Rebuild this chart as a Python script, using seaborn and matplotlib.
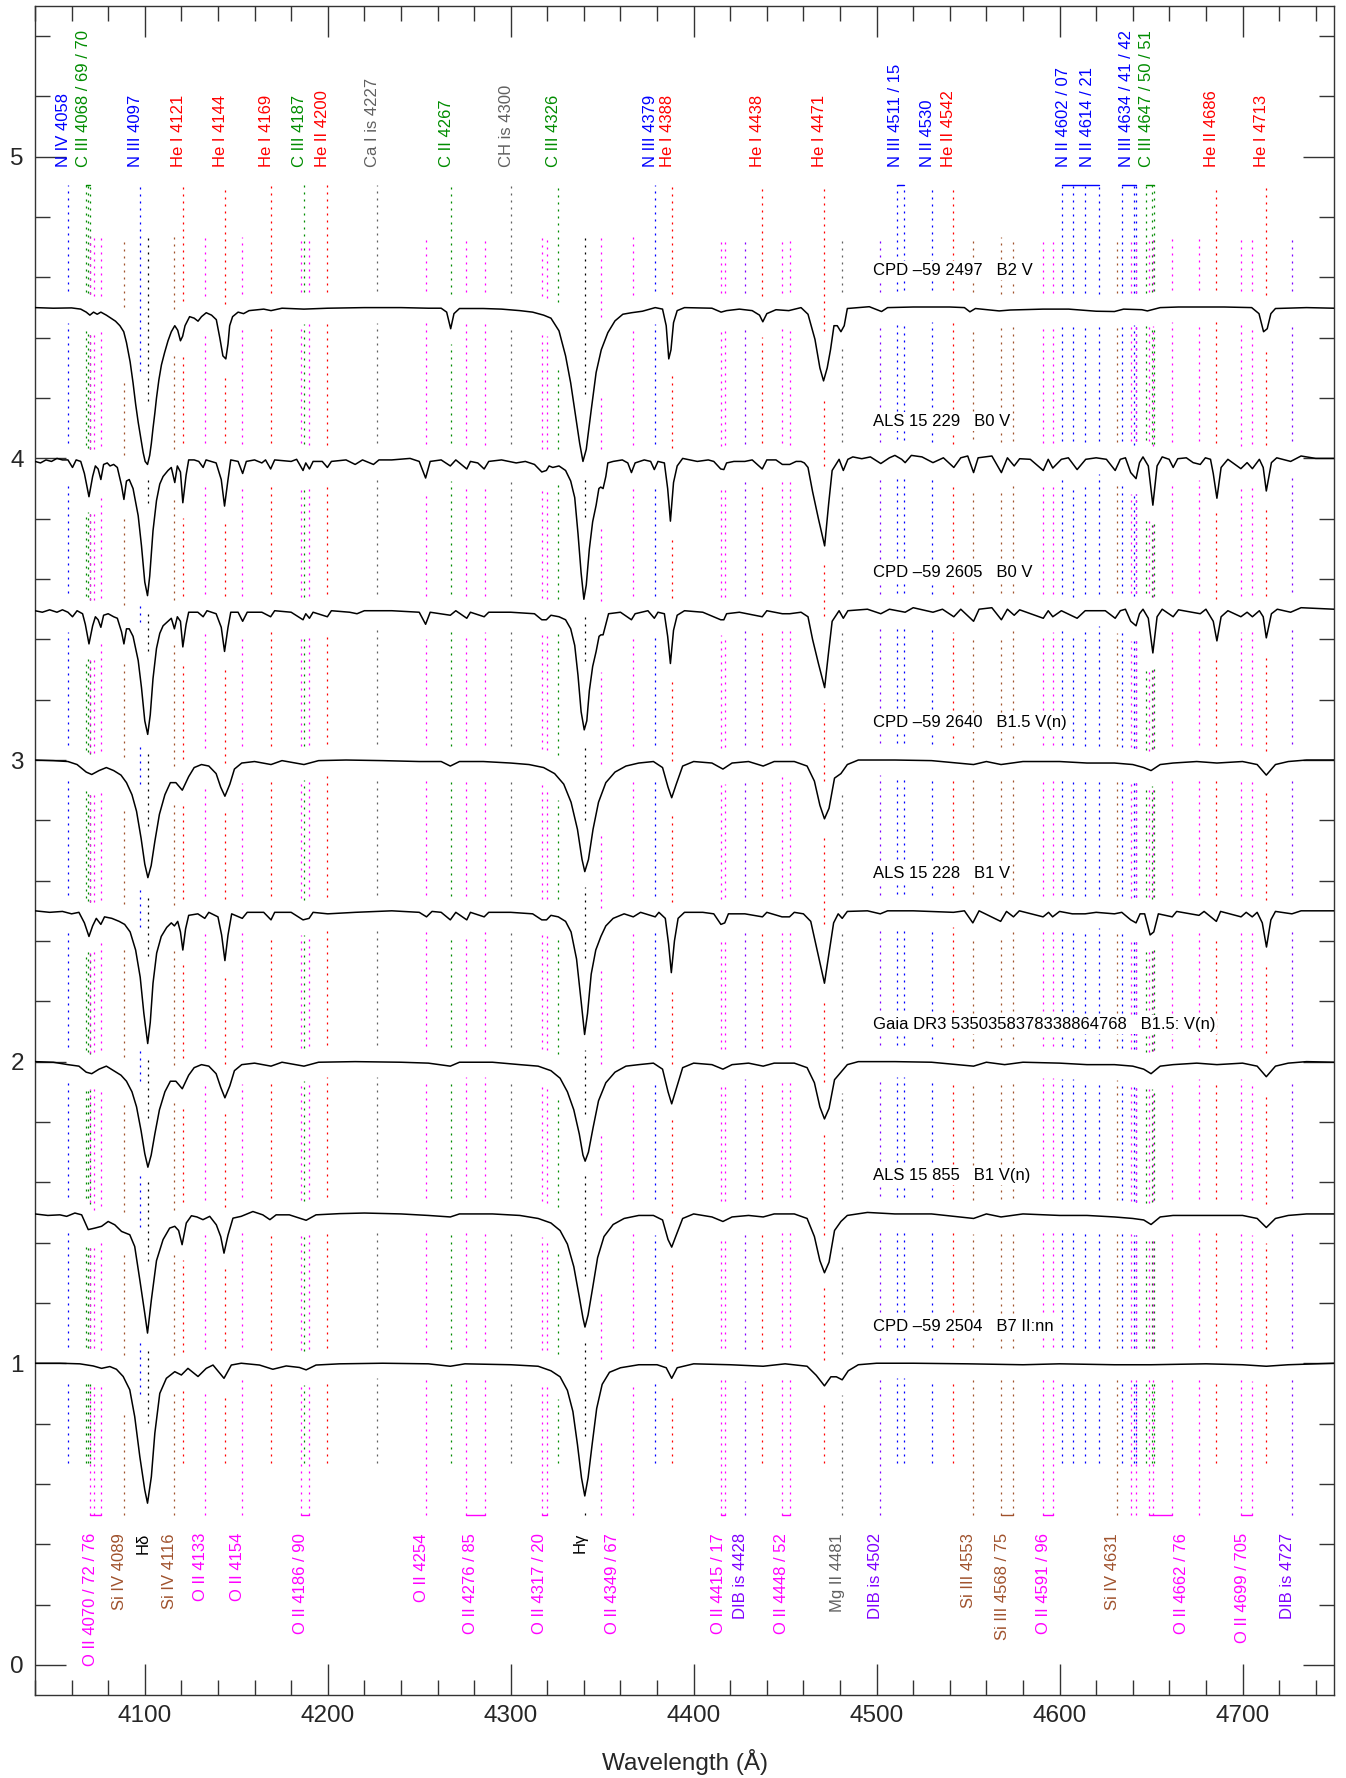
import numpy as np
import pandas as pd
import matplotlib
matplotlib.use('Agg')
import matplotlib.pyplot as plt
import seaborn as sns
from matplotlib.ticker import MultipleLocator

sns.set_theme(style='ticks')
plt.rcParams['font.family'] = ['Liberation Sans', 'DejaVu Sans']

# ---------------- data ----------------
star_names = ["CPD \u201359 2497   B2 V", "ALS 15 229   B0 V", "CPD \u201359 2605   B0 V",
              "CPD \u201359 2640   B1.5 V(n)", "ALS 15 228   B1 V",
              "Gaia DR3 5350358378338864768   B1.5: V(n)", "ALS 15 855   B1 V(n)",
              "CPD \u201359 2504   B7 II:nn"]
offsets = [4.5, 4.0, 3.5, 3.0, 2.5, 2.0, 1.5, 1.0]

# normalized spectra (wavelength [A], flux)
spec_1 = [(4040, 1.000), (4050, 0.998), (4060, 0.999), (4065, 0.995), (4068, 0.985), (4070, 0.975),
          (4072, 0.985), (4074, 0.978), (4076, 0.985), (4079, 0.975), (4081, 0.967), (4084, 0.955),
          (4086.4, 0.94), (4088.5, 0.92), (4090, 0.884), (4092, 0.82), (4093.6, 0.75), (4095, 0.68),
          (4096.4, 0.62), (4098, 0.56), (4099.1, 0.52), (4100.2, 0.49), (4101.5, 0.48), (4102.7, 0.51),
          (4103.6, 0.55), (4104.5, 0.60), (4105.5, 0.65), (4106.4, 0.70), (4107.7, 0.76), (4109.1, 0.81),
          (4110.8, 0.85), (4112.7, 0.89), (4114.5, 0.92), (4116.4, 0.94), (4118, 0.925), (4119.5, 0.89),
          (4120.7, 0.905), (4122, 0.94), (4124.5, 0.97), (4127, 0.965), (4129.1, 0.955), (4131, 0.97),
          (4133.6, 0.983), (4136.5, 0.975), (4139.1, 0.96), (4141, 0.90), (4142.7, 0.84), (4144.3, 0.83),
          (4145.5, 0.88), (4146.4, 0.94), (4148, 0.97), (4151, 0.985), (4154, 0.98), (4157, 0.99),
          (4165, 0.995), (4169, 0.99), (4175, 0.998), (4187, 0.995), (4200, 0.998), (4220, 1.0),
          (4240, 1.0), (4255, 0.998), (4262, 0.998), (4265, 0.985), (4267.2, 0.93), (4269, 0.98),
          (4272, 0.997), (4285, 0.997), (4295, 0.995), (4305, 0.99), (4312, 0.985), (4318, 0.975),
          (4322, 0.965), (4326.4, 0.923), (4330, 0.84), (4332.8, 0.75), (4335.5, 0.64), (4337.7, 0.55),
          (4339.5, 0.49), (4341.3, 0.53), (4344, 0.66), (4346.7, 0.785), (4349.5, 0.86), (4353.1, 0.917),
          (4357, 0.956), (4361.3, 0.978), (4366, 0.983), (4372, 0.988), (4379, 1.0), (4383, 0.995),
          (4385, 0.94), (4386.4, 0.83), (4387.6, 0.86), (4389, 0.95), (4391, 0.99), (4395, 1.0),
          (4410, 0.998), (4415, 0.985), (4418, 0.99), (4425, 0.995), (4432, 0.99), (4436, 0.975),
          (4437.8, 0.953), (4440, 0.98), (4445, 0.993), (4452, 0.99), (4458.7, 1.0), (4462.5, 0.978),
          (4466.3, 0.895), (4469, 0.80), (4471, 0.757), (4473, 0.80), (4474.8, 0.86), (4476.7, 0.94),
          (4478.5, 0.94), (4480.5, 0.92), (4482.3, 0.94), (4484, 0.997), (4496, 1.003), (4502.7, 0.987),
          (4506, 1.0), (4520, 1.002), (4540, 1.002), (4548, 1.0), (4551, 0.986), (4554, 0.997),
          (4567, 0.989), (4573, 0.992), (4591, 0.995), (4605, 0.995), (4620, 0.988), (4630, 0.987),
          (4635, 0.995), (4645, 0.993), (4648, 0.989), (4655, 1.0), (4665, 1.002), (4690, 1.002),
          (4705, 1.0), (4709, 0.98), (4711.5, 0.92), (4713.5, 0.93), (4715.5, 0.98), (4718, 0.997),
          (4735, 1.0), (4750, 0.998)]

spec_2 = [(4040, 0.99), (4043, 0.985), (4046, 0.995), (4049, 0.99), (4052, 1.0), (4055, 0.995),
          (4058, 0.995), (4060.5, 0.97), (4062.5, 0.995), (4065, 0.99), (4067, 0.95), (4069.5, 0.873),
          (4071.5, 0.94), (4073, 0.975), (4074.5, 0.965), (4076, 0.93), (4077.5, 0.98), (4079.5, 0.985),
          (4081, 0.975), (4083, 0.98), (4085, 0.97), (4087.3, 0.91), (4088.6, 0.864), (4090, 0.925),
          (4091.5, 0.93), (4093.6, 0.90), (4096.4, 0.81), (4098.2, 0.71), (4100, 0.59), (4101.5, 0.545),
          (4102.7, 0.61), (4104.5, 0.76), (4106.4, 0.86), (4108.2, 0.915), (4110, 0.94), (4112.7, 0.96),
          (4114.5, 0.97), (4116.4, 0.92), (4117.8, 0.975), (4119.5, 0.955), (4120.8, 0.853),
          (4122.6, 0.945), (4124, 0.995), (4127, 0.995), (4129.5, 0.99), (4131.9, 0.97), (4133.5, 0.995),
          (4139, 0.985), (4141.8, 0.93), (4143.6, 0.842), (4145.5, 0.93), (4147, 0.995), (4151, 0.99),
          (4153.5, 0.95), (4155.5, 0.99), (4160, 0.995), (4164, 0.985), (4166, 0.995), (4168.8, 0.965),
          (4171, 0.995), (4180, 0.99), (4183, 0.997), (4186.5, 0.96), (4188, 0.985), (4190, 0.965),
          (4192, 0.99), (4197, 0.99), (4199.8, 0.97), (4202, 0.99), (4210, 0.995), (4215, 0.98),
          (4219, 0.995), (4225, 0.98), (4228, 0.995), (4235, 0.995), (4245, 1.0), (4250, 0.99),
          (4253.5, 0.935), (4256, 0.99), (4262, 0.995), (4267, 0.975), (4270, 0.995), (4276, 0.965),
          (4278, 0.99), (4282, 0.985), (4285.5, 0.965), (4288, 0.99), (4295, 0.995), (4303, 0.985),
          (4308, 0.99), (4313, 0.98), (4317, 0.955), (4319.5, 0.96), (4321, 0.975), (4323, 0.97),
          (4326.4, 0.975), (4330, 0.96), (4332.8, 0.925), (4335, 0.87), (4336.8, 0.75), (4338.5, 0.62),
          (4340, 0.533), (4341.3, 0.58), (4343, 0.70), (4344.8, 0.79), (4346.7, 0.845), (4348.2, 0.90),
          (4349.2, 0.905), (4350.5, 0.90), (4352, 0.94), (4353.1, 0.985), (4356, 0.99), (4361, 0.995),
          (4364, 0.985), (4366, 0.953), (4368, 0.985), (4373, 0.995), (4376.5, 0.99), (4378.5, 0.963),
          (4380.5, 0.99), (4384, 0.985), (4385.8, 0.90), (4387.3, 0.792), (4389, 0.92), (4391, 0.975),
          (4394, 1.0), (4398, 0.995), (4402, 0.99), (4408, 0.995), (4411, 0.99), (4414.8, 0.965),
          (4416.5, 0.963), (4418, 0.985), (4422, 0.99), (4428, 0.99), (4432, 0.995), (4437.5, 0.965),
          (4440, 0.995), (4445, 0.995), (4448.5, 0.98), (4452.5, 0.98), (4456, 0.99), (4458.7, 0.99),
          (4460.5, 0.985), (4462.5, 0.97), (4465, 0.89), (4468.2, 0.80), (4471.6, 0.71), (4473.8, 0.85),
          (4475.7, 0.96), (4479.5, 0.997), (4481.8, 0.96), (4484.3, 0.997), (4487, 1.005),
          (4491.9, 0.999), (4496.6, 1.005), (4502.3, 0.983), (4507, 1.002), (4510, 1.01),
          (4513.7, 0.997), (4515.6, 0.986), (4519, 1.01), (4524.8, 1.005), (4530.8, 0.986),
          (4536.5, 1.002), (4542.2, 0.97), (4546, 1.002), (4549.8, 1.008), (4553, 0.953),
          (4555.5, 1.002), (4563, 1.008), (4568.2, 0.953), (4571.5, 1.002), (4575.2, 0.975),
          (4578.2, 0.999), (4584, 0.997), (4591.1, 0.96), (4593.8, 0.997), (4596.3, 0.968), (4601, 0.997),
          (4604.8, 1.002), (4609.6, 0.963), (4614.3, 0.997), (4620, 1.002), (4625.6, 0.997),
          (4630.4, 0.96), (4633.2, 0.997), (4636, 1.002), (4638.9, 0.953), (4641.8, 0.933),
          (4643.7, 0.986), (4645.6, 1.005), (4648.5, 0.975), (4651, 0.845), (4653.3, 0.975),
          (4656.1, 1.005), (4659.9, 0.997), (4662.1, 0.97), (4664.6, 0.999), (4669.3, 1.002),
          (4673, 0.986), (4676.9, 0.98), (4679.7, 1.002), (4682.5, 0.997), (4684, 0.95), (4686, 0.868),
          (4688.3, 0.97), (4692, 0.997), (4699.1, 0.966), (4702.5, 0.986), (4705.4, 0.966),
          (4709.2, 0.997), (4711.3, 0.97), (4713, 0.892), (4715.8, 0.986), (4718.7, 1.002),
          (4726.3, 0.99), (4732, 1.008), (4740, 1.0), (4750, 1.0)]

spec_3 = [(4040, 0.995), (4044, 0.99), (4048, 0.998), (4052, 0.99), (4055, 0.998), (4058, 0.99),
          (4060.5, 0.975), (4063, 0.995), (4066, 0.985), (4067.5, 0.95), (4069.5, 0.885), (4071.5, 0.945),
          (4073, 0.975), (4074.5, 0.965), (4076, 0.94), (4077.5, 0.98), (4080, 0.985), (4083, 0.975),
          (4085, 0.97), (4087.3, 0.925), (4088.6, 0.885), (4090, 0.935), (4091.5, 0.935), (4093.6, 0.91),
          (4096.4, 0.83), (4098.2, 0.74), (4100, 0.63), (4101.6, 0.585), (4103, 0.65), (4104.5, 0.77),
          (4106.4, 0.87), (4108.2, 0.92), (4110, 0.945), (4112.7, 0.96), (4114.5, 0.97), (4116.2, 0.935),
          (4117.8, 0.975), (4119.5, 0.96), (4120.8, 0.875), (4122.6, 0.95), (4124, 0.99), (4129, 0.99),
          (4131.9, 0.975), (4134, 0.995), (4139, 0.985), (4141.8, 0.94), (4143.6, 0.86), (4145.5, 0.94),
          (4147, 0.99), (4151, 0.99), (4153.5, 0.96), (4156, 0.99), (4164, 0.99), (4168.8, 0.975),
          (4171, 0.995), (4180, 0.99), (4186.5, 0.965), (4188, 0.985), (4190, 0.97), (4192, 0.99),
          (4199.8, 0.975), (4202, 0.995), (4212, 0.99), (4216, 0.985), (4220, 0.995), (4235, 0.995),
          (4250, 0.99), (4253.5, 0.95), (4256, 0.99), (4267, 0.98), (4270, 0.995), (4276, 0.97),
          (4278, 0.99), (4285.5, 0.975), (4288, 0.99), (4300, 0.99), (4313, 0.985), (4317, 0.965),
          (4319.5, 0.965), (4322, 0.98), (4326.4, 0.975), (4330, 0.965), (4332.8, 0.935), (4335, 0.88),
          (4336.8, 0.78), (4338.5, 0.66), (4340.2, 0.60), (4341.6, 0.63), (4343, 0.73), (4344.8, 0.81),
          (4346.7, 0.86), (4348.3, 0.91), (4349.3, 0.915), (4350.5, 0.915), (4352, 0.95), (4353.5, 0.985),
          (4360, 0.99), (4366, 0.965), (4368, 0.985), (4375, 0.995), (4378.5, 0.97), (4380.5, 0.99),
          (4384, 0.985), (4385.8, 0.91), (4387.3, 0.82), (4389, 0.93), (4391, 0.98), (4395, 0.995),
          (4405, 0.99), (4414.8, 0.965), (4416.5, 0.965), (4418, 0.985), (4425, 0.99), (4437.5, 0.975),
          (4440, 0.995), (4448.5, 0.985), (4452.5, 0.985), (4458.7, 0.99), (4462.5, 0.975), (4465, 0.90),
          (4468.2, 0.82), (4471.6, 0.74), (4473.8, 0.86), (4475.7, 0.96), (4479.5, 0.995), (4481.8, 0.97),
          (4484.3, 0.995), (4495, 1.0), (4502.3, 0.985), (4507, 1.0), (4515.6, 0.99), (4520, 1.005),
          (4530.8, 0.99), (4536, 1.0), (4542.2, 0.975), (4546, 1.0), (4553, 0.96), (4556, 1.0),
          (4563, 1.005), (4568.2, 0.965), (4571.5, 1.0), (4575.2, 0.98), (4578.2, 0.998), (4591.1, 0.97),
          (4593.8, 0.995), (4596.3, 0.975), (4601, 0.995), (4609.6, 0.97), (4614, 0.995), (4625, 0.995),
          (4630.4, 0.97), (4633.2, 0.995), (4636, 1.0), (4638.9, 0.96), (4641.8, 0.945), (4643.7, 0.985),
          (4645.6, 1.0), (4648.5, 0.97), (4651, 0.855), (4653.3, 0.975), (4656.1, 1.0), (4662.1, 0.975),
          (4665, 0.998), (4676.9, 0.985), (4680, 1.0), (4684, 0.96), (4686, 0.895), (4688.3, 0.975),
          (4692, 0.995), (4699.1, 0.975), (4702.5, 0.99), (4705.4, 0.975), (4709.2, 0.995),
          (4711.3, 0.975), (4713, 0.905), (4715.8, 0.985), (4719, 1.0), (4726.3, 0.99), (4732, 1.005),
          (4750, 1.0)]

spec_4 = [(4040, 1.0), (4050, 0.998), (4058, 0.995), (4063, 0.985), (4068, 0.96), (4071, 0.952),
          (4075, 0.965), (4079, 0.975), (4083, 0.965), (4087, 0.95), (4090, 0.925), (4093, 0.885),
          (4095.5, 0.83), (4098, 0.74), (4100, 0.655), (4101.7, 0.61), (4103.5, 0.65), (4105.5, 0.73),
          (4108, 0.82), (4111, 0.885), (4114, 0.925), (4117, 0.925), (4120.5, 0.90), (4124, 0.945),
          (4127, 0.975), (4131, 0.985), (4135, 0.98), (4139, 0.955), (4141.5, 0.91), (4143.8, 0.88),
          (4146.5, 0.92), (4149, 0.97), (4153, 0.99), (4160, 0.995), (4169, 0.985), (4175, 0.998),
          (4187, 0.985), (4195, 0.998), (4210, 1.0), (4230, 0.998), (4250, 0.995), (4262, 0.995),
          (4267, 0.98), (4272, 0.995), (4285, 0.995), (4300, 0.99), (4310, 0.985), (4318, 0.975),
          (4324, 0.955), (4329, 0.92), (4333, 0.86), (4336.5, 0.77), (4339, 0.67), (4340.5, 0.63),
          (4342.5, 0.67), (4345, 0.77), (4348, 0.86), (4352, 0.925), (4357, 0.96), (4363, 0.98),
          (4370, 0.99), (4378, 0.995), (4383, 0.975), (4386, 0.91), (4388, 0.875), (4390.5, 0.92),
          (4394, 0.98), (4400, 0.995), (4410, 0.99), (4416, 0.97), (4421, 0.99), (4430, 0.995),
          (4438, 0.98), (4444, 0.995), (4455, 0.995), (4462, 0.98), (4466, 0.93), (4469, 0.85),
          (4471.5, 0.805), (4474, 0.84), (4477, 0.94), (4480.5, 0.955), (4484, 0.985), (4490, 1.0),
          (4510, 1.0), (4530, 0.998), (4553, 0.985), (4560, 0.995), (4568, 0.985), (4580, 0.995),
          (4600, 0.995), (4615, 0.99), (4630, 0.99), (4640, 0.985), (4646, 0.975), (4650, 0.965),
          (4655, 0.985), (4662, 0.99), (4675, 0.995), (4686, 0.99), (4700, 0.995), (4708, 0.985),
          (4713, 0.95), (4718, 0.985), (4725, 0.995), (4735, 1.0), (4750, 1.0)]

spec_5 = [(4040, 1.0), (4048, 0.995), (4055, 0.998), (4060, 0.99), (4064, 0.995), (4067, 0.96),
          (4069.5, 0.915), (4071.5, 0.95), (4073.5, 0.975), (4076, 0.955), (4078, 0.98), (4082, 0.975),
          (4086, 0.965), (4089, 0.955), (4092, 0.93), (4095, 0.87), (4097.5, 0.78), (4099.5, 0.66),
          (4101.6, 0.56), (4103, 0.63), (4104.5, 0.76), (4106.5, 0.86), (4109, 0.915), (4112, 0.945),
          (4114.5, 0.96), (4116.2, 0.95), (4118, 0.965), (4119.5, 0.93), (4120.8, 0.87), (4122.3, 0.94),
          (4124, 0.985), (4129, 0.99), (4132.8, 0.975), (4135, 0.995), (4140, 0.98), (4142, 0.92),
          (4143.8, 0.835), (4145.5, 0.92), (4147.5, 0.99), (4153.3, 0.975), (4156, 0.995), (4165, 0.995),
          (4169, 0.97), (4171, 0.995), (4180, 0.995), (4186.5, 0.97), (4189.8, 0.975), (4192, 0.995),
          (4200, 0.99), (4215, 0.995), (4235, 1.0), (4250, 0.995), (4254, 0.98), (4257, 0.998),
          (4262, 0.995), (4267, 0.97), (4270, 0.995), (4276, 0.97), (4278, 0.995), (4285.5, 0.98),
          (4288, 0.995), (4300, 0.995), (4312, 0.99), (4317, 0.97), (4319.6, 0.97), (4322, 0.985),
          (4326, 0.98), (4330, 0.965), (4333, 0.93), (4336, 0.84), (4338.5, 0.70), (4340.4, 0.59),
          (4342, 0.66), (4344, 0.79), (4346.5, 0.87), (4349.3, 0.915), (4352, 0.95), (4356, 0.975),
          (4362, 0.99), (4367, 0.98), (4371, 0.995), (4379, 0.98), (4381, 0.995), (4384.5, 0.975),
          (4386.3, 0.89), (4387.8, 0.795), (4389.5, 0.90), (4391.5, 0.975), (4395, 0.995), (4405, 0.995),
          (4411, 0.99), (4414.9, 0.955), (4417, 0.96), (4419, 0.99), (4428, 0.99), (4437.6, 0.98),
          (4440, 0.995), (4448.3, 0.98), (4452.4, 0.98), (4455, 0.995), (4460, 0.99), (4464, 0.965),
          (4467.5, 0.87), (4471.5, 0.76), (4474, 0.86), (4476.5, 0.96), (4479, 0.99), (4481.2, 0.975),
          (4484, 0.998), (4495, 1.0), (4502, 0.99), (4506, 1.0), (4520, 1.0), (4542, 0.995), (4548, 1.0),
          (4552.6, 0.96), (4556, 1.0), (4567.8, 0.965), (4571, 0.998), (4574.8, 0.98), (4578, 1.0),
          (4591, 0.98), (4594, 0.995), (4596.2, 0.98), (4600, 0.998), (4607, 0.99), (4614, 0.99),
          (4620, 0.995), (4630, 0.99), (4634, 0.995), (4638.9, 0.97), (4641.8, 0.96), (4644, 0.99),
          (4646.5, 0.99), (4649.5, 0.92), (4651.5, 0.93), (4654, 0.99), (4661.6, 0.98), (4664, 0.998),
          (4676.2, 0.985), (4679, 0.998), (4685.7, 0.965), (4688, 0.998), (4699.2, 0.98), (4702, 0.995),
          (4705.3, 0.98), (4708, 0.995), (4710.8, 0.96), (4713.1, 0.88), (4715.5, 0.97), (4718, 0.998),
          (4727, 0.99), (4732, 1.0), (4750, 1.0)]

spec_6 = [(4040, 1.0), (4050, 0.998), (4058, 0.99), (4064, 0.985), (4068, 0.965), (4071, 0.96),
          (4075, 0.975), (4079, 0.985), (4083, 0.97), (4087, 0.955), (4090, 0.935), (4093, 0.90),
          (4095.5, 0.85), (4098, 0.77), (4100, 0.695), (4101.7, 0.65), (4103.5, 0.69), (4105.5, 0.76),
          (4108, 0.84), (4111, 0.90), (4114, 0.935), (4117, 0.935), (4120.5, 0.91), (4124, 0.955),
          (4127, 0.98), (4131, 0.99), (4135, 0.985), (4139, 0.96), (4141.5, 0.915), (4143.8, 0.88),
          (4146.5, 0.92), (4149, 0.97), (4153, 0.99), (4160, 0.995), (4169, 0.985), (4175, 0.998),
          (4187, 0.985), (4195, 0.998), (4215, 1.0), (4240, 0.998), (4255, 0.995), (4267, 0.985),
          (4272, 0.998), (4290, 0.998), (4305, 0.99), (4315, 0.985), (4322, 0.97), (4327, 0.945),
          (4331, 0.90), (4334.5, 0.84), (4337.5, 0.76), (4339.5, 0.69), (4340.7, 0.67), (4342.5, 0.70),
          (4345, 0.78), (4348, 0.87), (4352, 0.93), (4357, 0.965), (4363, 0.985), (4370, 0.99),
          (4378, 0.995), (4383, 0.975), (4386, 0.90), (4388, 0.86), (4390.5, 0.91), (4394, 0.98),
          (4400, 0.995), (4410, 0.99), (4416, 0.975), (4421, 0.99), (4430, 0.995), (4438, 0.985),
          (4444, 0.995), (4455, 0.995), (4462, 0.98), (4466, 0.93), (4469, 0.85), (4471.5, 0.81),
          (4474, 0.845), (4477, 0.94), (4480.5, 0.965), (4484, 0.99), (4490, 1.0), (4510, 1.0),
          (4530, 0.998), (4553, 0.985), (4560, 0.998), (4570, 0.99), (4580, 0.998), (4600, 0.995),
          (4615, 0.99), (4630, 0.99), (4640, 0.985), (4646, 0.975), (4650, 0.96), (4655, 0.985),
          (4662, 0.99), (4675, 0.995), (4686, 0.99), (4700, 0.995), (4708, 0.985), (4713, 0.95),
          (4718, 0.985), (4725, 0.995), (4735, 1.0), (4750, 0.998)]

spec_7 = [(4040, 0.995), (4047, 0.99), (4053.6, 0.992), (4057.3, 0.987), (4061.8, 0.998),
          (4065.5, 0.992), (4069.1, 0.943), (4072.7, 0.948), (4076.4, 0.954), (4080, 0.97),
          (4083.6, 0.959), (4087.3, 0.937), (4091.8, 0.926), (4094.5, 0.887), (4097.3, 0.776),
          (4100, 0.665), (4101.5, 0.60), (4103.6, 0.71), (4106.4, 0.84), (4110, 0.91), (4113.6, 0.948),
          (4116.4, 0.954), (4118.5, 0.94), (4120.4, 0.893), (4122.7, 0.965), (4125.5, 0.989),
          (4128.5, 0.985), (4131.8, 0.976), (4135.5, 0.987), (4139.1, 0.959), (4141.5, 0.92),
          (4143.3, 0.865), (4145.5, 0.925), (4148.2, 0.981), (4152.7, 0.987), (4159.1, 1.003),
          (4164.5, 0.992), (4168.4, 0.976), (4171.8, 0.992), (4179, 0.992), (4188.2, 0.974),
          (4193.6, 0.992), (4206.4, 0.996), (4220, 0.998), (4240, 0.995), (4255, 0.99), (4267, 0.985),
          (4272, 0.995), (4290, 0.995), (4305, 0.99), (4315, 0.98), (4322, 0.965), (4327, 0.94),
          (4331, 0.895), (4334.5, 0.82), (4337.5, 0.72), (4339.5, 0.65), (4340.6, 0.62), (4342.3, 0.66),
          (4344.8, 0.75), (4347.5, 0.85), (4351, 0.92), (4356, 0.96), (4362, 0.98), (4370, 0.99),
          (4378, 0.99), (4383, 0.975), (4386, 0.91), (4388, 0.885), (4390.5, 0.925), (4394, 0.98),
          (4400, 0.995), (4410, 0.985), (4416, 0.97), (4421, 0.985), (4430, 0.99), (4438, 0.985),
          (4444, 0.995), (4455, 0.995), (4462, 0.98), (4466, 0.92), (4469, 0.84), (4471.5, 0.80),
          (4474, 0.835), (4477, 0.94), (4480.5, 0.97), (4484, 0.99), (4495, 1.0), (4510, 0.995),
          (4530, 0.995), (4553, 0.98), (4560, 0.995), (4568, 0.985), (4580, 0.995), (4600, 0.99),
          (4615, 0.99), (4630, 0.985), (4640, 0.98), (4646, 0.975), (4650, 0.96), (4655, 0.985),
          (4662, 0.99), (4675, 0.99), (4686, 0.99), (4700, 0.99), (4708, 0.98), (4713, 0.95),
          (4718, 0.98), (4725, 0.99), (4735, 0.995), (4750, 0.995)]

spec_8 = [(4040, 1.0), (4053.6, 1.0), (4064.5, 0.998), (4071.8, 0.991), (4076.4, 0.983),
          (4080.9, 0.989), (4084.5, 0.98), (4088.2, 0.956), (4091.8, 0.912), (4094.5, 0.823),
          (4097.3, 0.69), (4100, 0.58), (4101.5, 0.536), (4103.6, 0.624), (4105.5, 0.768),
          (4108.2, 0.90), (4111.8, 0.95), (4116.4, 0.972), (4120, 0.961), (4123.6, 0.983),
          (4129.1, 0.956), (4133.6, 0.983), (4137.3, 0.994), (4143.3, 0.95), (4147.3, 0.994),
          (4152.7, 1.0), (4162.7, 0.994), (4170, 0.98), (4177.3, 0.991), (4184.5, 0.986),
          (4188.2, 0.978), (4193.6, 0.994), (4206.4, 0.998), (4230, 1.0), (4255, 0.998), (4267, 0.99),
          (4275, 0.998), (4300, 0.995), (4315, 0.99), (4322, 0.975), (4327, 0.955), (4331, 0.91),
          (4334, 0.84), (4336.5, 0.73), (4338.7, 0.62), (4340.5, 0.56), (4342.3, 0.62), (4344.5, 0.73),
          (4347, 0.85), (4350, 0.93), (4354, 0.97), (4360, 0.985), (4370, 0.995), (4380, 0.995),
          (4385, 0.985), (4388, 0.95), (4391, 0.985), (4400, 0.998), (4420, 0.995), (4438, 0.99),
          (4450, 0.998), (4462, 0.99), (4467, 0.96), (4471.5, 0.925), (4475, 0.955), (4478, 0.955),
          (4481.2, 0.945), (4484.5, 0.975), (4490, 0.995), (4500, 1.0), (4520, 1.0), (4550, 0.998),
          (4580, 0.995), (4600, 0.998), (4630, 0.995), (4650, 0.995), (4680, 0.998), (4700, 0.995),
          (4713, 0.99), (4725, 0.995), (4750, 1.0)]

spectra = [spec_1, spec_2, spec_3, spec_4, spec_5, spec_6, spec_7, spec_8]

# line identifications: labels at the top
top_labels = ["N IV 4058", "C III 4068 / 69 / 70", "N III 4097", "He I 4121", "He I 4144",
              "He I 4169", "C III 4187", "He II 4200", "Ca I is 4227", "C II 4267", "CH is 4300",
              "C III 4326", "N III 4379", "He I 4388", "He I 4438", "He I 4471", "N III 4511 / 15",
              "N II 4530", "He II 4542", "N II 4602 / 07", "N II 4614 / 21", "N III 4634 / 41 / 42",
              "C III 4647 / 50 / 51", "He II 4686", "He I 4713"]
top_waves = [[4057.8], [4067.9, 4068.9, 4070.3], [4097.3], [4120.8], [4143.8], [4169.0], [4186.9],
             [4199.8], [4226.7], [4267.2], [4300.3], [4325.6], [4379.1], [4387.9], [4437.6],
             [4471.5], [4510.9, 4514.9], [4530.4], [4541.6], [4601.5, 4607.2], [4613.9, 4621.4],
             [4634.1, 4640.6, 4641.9], [4647.4, 4650.3, 4651.5], [4685.7], [4713.1]]
top_kinds = ["N", "C", "N", "He", "He", "He", "C", "He", "is", "C", "is", "C", "N", "He", "He",
             "He", "N", "N", "He", "N", "N", "N", "C", "He", "He"]
top_bars = [(4067.9, 4070.3, "C"), (4510.9, 4514.9, "N"), (4601.5, 4621.4, "N"),
            (4634.1, 4641.9, "N"), (4647.4, 4651.5, "C")]

# line identifications: labels at the bottom
bot_labels = ["O II 4070 / 72 / 76", "Si IV 4089", "H\u03b4", "Si IV 4116", "O II 4133", "O II 4154",
              "O II 4186 / 90", "O II 4254", "O II 4276 / 85", "O II 4317 / 20", "H\u03b3",
              "O II 4349 / 67", "O II 4415 / 17", "DIB is 4428", "O II 4448 / 52", "Mg II 4481",
              "DIB is 4502", "Si III 4553", "Si III 4568 / 75", "O II 4591 / 96", "Si IV 4631",
              "O II 4662 / 76", "O II 4699 / 705", "DIB is 4727"]
bot_waves = [[4069.9, 4072.2, 4075.9], [4088.9], [4101.7], [4116.1], [4132.8], [4153.3],
             [4185.5, 4189.8], [4253.9], [4275.6, 4285.7], [4317.1, 4319.6], [4340.5],
             [4349.4, 4366.9], [4414.9, 4417.0], [4428.0], [4448.2, 4452.4], [4481.2], [4501.8],
             [4552.6], [4567.8, 4574.8], [4591.0, 4596.2], [4631.2], [4661.6, 4676.2],
             [4699.2, 4705.3], [4726.8]]
bot_kinds = ["O", "Si", "H", "Si", "O", "O", "O", "O", "O", "O", "H", "O", "O", "DIB", "O", "is",
             "DIB", "Si", "Si", "O", "Si", "O", "O", "DIB"]
extra_O_waves = [4638.9, 4641.8, 4649.1, 4650.8]
bot_bars = [(4069.9, 4075.9, "O"), (4185.5, 4189.8, "O"), (4275.6, 4285.7, "O"),
            (4317.1, 4319.6, "O"), (4414.9, 4417.0, "O"), (4448.2, 4452.4, "O"),
            (4567.8, 4574.8, "Si"), (4591.0, 4596.2, "O"), (4649.1, 4661.6, "O"),
            (4699.2, 4705.3, "O")]

kind_colors = {"N": "#0000FF", "C": "#008C00", "He": "#FF0000", "is": "#606060", "O": "#FF00FF",
               "Si": "#A0522D", "H": "#000000", "DIB": "#8000FF"}

# ---------------- figure ----------------
W, H = 1346, 1778
fig = plt.figure(figsize=(W / 100, H / 100), dpi=100)
ax = fig.add_axes([35 / W, 83 / H, 1299 / W, 1689 / H])

rows = []
for k, (sp, off) in enumerate(zip(spectra, offsets)):
    for wl, fx in sp:
        rows.append((k, wl, fx - 1.0 + off))
df = pd.DataFrame(rows, columns=["star", "wl", "y"])
sns.lineplot(data=df, x="wl", y="y", units="star", estimator=None, sort=False, color="black",
             lw=1.1, ax=ax, legend=False, zorder=4)

# local extremes of each spectrum around a mark
grid = np.arange(4040.0, 4750.01, 0.1)
curves = [np.interp(grid, [p[0] for p in sp], [p[1] for p in sp]) - 1.0 + off
          for sp, off in zip(spectra, offsets)]
HALF_W = 3.5
GAP_UP, GAP_DN = 0.055, 0.05
dots = (0, (1.6, 4.0))


def mark_segments(lam, y_start, y_end):
    sel = (grid >= lam - HALF_W) & (grid <= lam + HALF_W)
    hi = [c[sel].max() for c in curves]
    lo = [c[sel].min() for c in curves]
    segs = [(y_start, hi[0] + GAP_UP)]
    for k in range(len(curves) - 1):
        segs.append((lo[k] - GAP_DN, hi[k + 1] + GAP_UP))
    segs.append((lo[-1] - GAP_DN, y_end))
    return [(a, b) for a, b in segs if a > b]


TOP_START, TOP_END = 4.907, 0.67
BOT_START, BOT_END = 4.735, 0.497


def draw_marks(waves, color, y0, y1):
    for lam in waves:
        segs = mark_segments(lam, y0, y1)
        ax.vlines([lam] * len(segs), [b for a, b in segs], [a for a, b in segs], colors=color,
                  linestyles=[dots], linewidth=0.9, zorder=2)


for waves, kind in zip(top_waves, top_kinds):
    draw_marks(waves, kind_colors[kind], TOP_START, TOP_END)
for waves, kind in zip(bot_waves, bot_kinds):
    draw_marks(waves, kind_colors[kind], BOT_START, BOT_END)
draw_marks(extra_O_waves, kind_colors["O"], BOT_START, BOT_END)

for a, b, kind in top_bars:
    ax.plot([a, b], [TOP_START, TOP_START], color=kind_colors[kind], lw=1.0, zorder=2)
for a, b, kind in bot_bars:
    ax.plot([a, b], [BOT_END, BOT_END], color=kind_colors[kind], lw=1.0, zorder=2)

# labels
for lab, waves, kind in zip(top_labels, top_waves, top_kinds):
    ax.text(np.mean(waves), 4.967, lab, rotation=90, rotation_mode="anchor", ha="left",
            va="baseline", fontsize=12, color=kind_colors[kind], zorder=6)
for lab, waves, kind in zip(bot_labels, bot_waves, bot_kinds):
    ax.text(np.mean(waves), 0.437, lab, rotation=90, rotation_mode="anchor", ha="right",
            va="baseline", fontsize=12, color=kind_colors[kind], zorder=6)

for name, off in zip(star_names, offsets):
    ax.text(4498, off + 0.123, name, fontsize=12, ha="left", va="center", color="black",
            zorder=7, bbox=dict(facecolor="white", edgecolor="none", pad=1.5))

ax.set_xlim(4040, 4750)
ax.set_ylim(-0.1, 5.5)
ax.xaxis.set_major_locator(MultipleLocator(100))
ax.xaxis.set_minor_locator(MultipleLocator(20))
ax.yaxis.set_major_locator(MultipleLocator(1))
ax.yaxis.set_minor_locator(MultipleLocator(0.2))
ax.tick_params(which="both", direction="in", top=True, right=True, color="#333333", width=1.0)
ax.tick_params(which="major", length=22, labelsize=17.5)
ax.tick_params(which="minor", length=10.8)
ax.tick_params(axis="x", which="major", pad=7)
ax.tick_params(axis="y", which="major", pad=8)
for s in ax.spines.values():
    s.set_color("#333333")
    s.set_linewidth(1.0)
ax.set_ylabel("")
ax.set_xlabel("Wavelength (\u00c5)", fontsize=17.5)
ax.xaxis.set_label_coords(0.5, -0.032)

fig.savefig("out.png", dpi=100)
